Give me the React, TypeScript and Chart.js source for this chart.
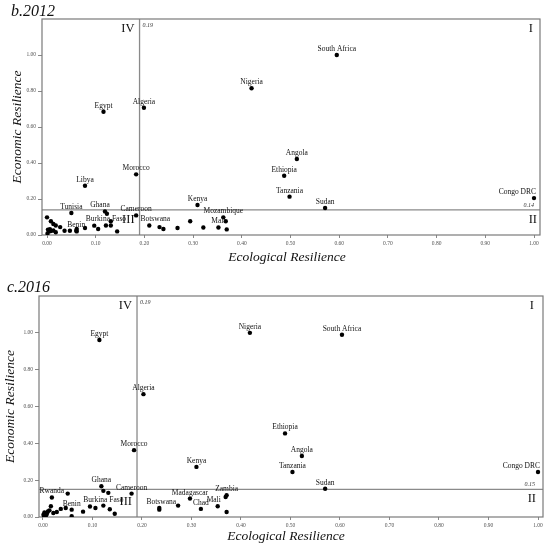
import React, { useEffect, useRef } from 'react';
import { Chart, registerables } from 'chart.js';
Chart.register(...registerables);

const FONT = '"Liberation Serif", "Times New Roman", serif';

// ---------- b.2012 ----------
const names2012 = ['South Africa', 'Nigeria', 'Egypt', 'Algeria', 'Morocco', 'Libya', 'Angola', 'Ethiopia', 'Tanzania', 'Sudan', 'Congo DRC', 'Kenya', 'Mozambique', 'Mali', 'Botswana', 'Cameroon', 'Ghana', 'Tunisia', 'Burkina Faso', 'Benin'];
const eco2012 = [0.595, 0.42, 0.116, 0.199, 0.183, 0.078, 0.513, 0.487, 0.498, 0.571, 1.0, 0.309, 0.362, 0.352, 0.21, 0.183, 0.119, 0.05, 0.121, 0.06];
const econ2012 = [1.0, 0.815, 0.685, 0.707, 0.337, 0.274, 0.422, 0.329, 0.213, 0.15, 0.205, 0.167, 0.098, 0.042, 0.053, 0.109, 0.131, 0.122, 0.053, 0.024];
const ecoOther2012 = [0.123, 0.367, 0.294, 0.321, 0.369, 0.268, 0.231, 0.239, 0.078, 0.097, 0.105, 0.131, 0.131, 0.144, 0.0, 0.008, 0.013, 0.018, 0.027, 0.036, 0.047, 0.061, 0.061, 0.002, 0.004, 0.001, 0.008, 0.013, 0.018, 0.006];
const econOther2012 = [0.118, 0.076, 0.076, 0.042, 0.031, 0.039, 0.044, 0.033, 0.039, 0.052, 0.033, 0.053, 0.076, 0.02, 0.098, 0.076, 0.061, 0.053, 0.044, 0.024, 0.024, 0.033, 0.02, 0.03, 0.02, 0.008, 0.022, 0.025, 0.015, 0.032];
const ecoThreshold2012 = 0.19;
const econThreshold2012 = 0.14;

// ---------- c.2016 ----------
const names2016 = ['Nigeria', 'South Africa', 'Egypt', 'Algeria', 'Morocco', 'Kenya', 'Ethiopia', 'Angola', 'Tanzania', 'Sudan', 'Congo DRC', 'Zambia', 'Madagascar', 'Chad', 'Mali', 'Botswana', 'Cameroon', 'Ghana', 'Burkina Faso', 'Benin', 'Rwanda'];
const eco2016 = [0.418, 0.604, 0.114, 0.203, 0.184, 0.31, 0.489, 0.523, 0.504, 0.57, 1.0, 0.371, 0.297, 0.319, 0.353, 0.235, 0.179, 0.118, 0.122, 0.058, 0.018];
const econ2016 = [1.0, 0.99, 0.961, 0.667, 0.363, 0.272, 0.454, 0.331, 0.244, 0.153, 0.244, 0.118, 0.1, 0.044, 0.058, 0.049, 0.127, 0.167, 0.062, 0.04, 0.106];
const ecoOther2016 = [0.369, 0.371, 0.273, 0.235, 0.122, 0.132, 0.05, 0.016, 0.046, 0.058, 0.036, 0.081, 0.095, 0.106, 0.135, 0.145, 0.028, 0.013, 0.021, 0.003, 0.001, 0.005, 0.008, 0.002, 0.01, 0.006];
const econOther2016 = [0.109, 0.027, 0.062, 0.04, 0.142, 0.131, 0.127, 0.058, 0.049, 0.004, 0.044, 0.029, 0.057, 0.049, 0.042, 0.018, 0.027, 0.036, 0.022, 0.025, 0.012, 0.005, 0.018, 0.0, 0.03, 0.01];
const ecoThreshold2016 = 0.19;
const econThreshold2016 = 0.15;

const X_TITLE = 'Ecological Resilience';
const Y_TITLE = 'Economic Resilience';

type Panel = {
  title: string;
  names: string[];
  eco: number[];
  econ: number[];
  ecoOther: number[];
  econOther: number[];
  vThr: number;
  hThr: number;
  height: number;
  yWidth: number;
  padTop: number;
  padRight: number;
  xHeight: number;
  xMin: number;
  xMax: number;
  titleX: number;
  titleY: number;
  yTitleX: number;
  xTitleX: number;
  xTitleY: number;
  labelDx: Record<string, number>;
  iRight: number;
  iiRight: number;
  thrRight: number;
};

const panels: Panel[] = [
  {
    title: 'b.2012', names: names2012, eco: eco2012, econ: econ2012, ecoOther: ecoOther2012, econOther: econOther2012,
    vThr: ecoThreshold2012, hThr: econThreshold2012,
    height: 272, yWidth: 42, padTop: 19, padRight: 10, xHeight: 37, xMin: -0.0103, xMax: 1.0123,
    titleX: 11, titleY: 16, yTitleX: 17, xTitleX: 287, xTitleY: 257,
    labelDx: { Botswana: 6, Ghana: -5 },
    iRight: 7, iiRight: 3, thrRight: 6,
  },
  {
    title: 'c.2016', names: names2016, eco: eco2016, econ: econ2016, ecoOther: ecoOther2016, econOther: econOther2016,
    vThr: ecoThreshold2016, hThr: econThreshold2016,
    height: 273, yWidth: 39, padTop: 24, padRight: 7, xHeight: 28, xMin: -0.008, xMax: 1.0101,
    titleX: 7, titleY: 19.5, yTitleX: 10, xTitleX: 286, xTitleY: 264.5,
    labelDx: { Mali: -4, Botswana: 2 },
    iRight: 9, iiRight: 7, thrRight: 8,
  },
];

function buildChart(canvas: HTMLCanvasElement, p: Panel) {
  const overlay = {
    id: 'overlay',
    beforeDatasetsDraw(chart: any) {
      const { ctx, chartArea: a, scales } = chart;
      const vx = scales.x.getPixelForValue(p.vThr);
      const hy = scales.y.getPixelForValue(p.hThr);
      ctx.save();
      ctx.strokeStyle = '#8a8a8a';
      ctx.lineWidth = 1.3;
      ctx.beginPath();
      ctx.moveTo(vx, a.top);
      ctx.lineTo(vx, a.bottom);
      ctx.moveTo(a.left, hy);
      ctx.lineTo(a.right, hy);
      ctx.stroke();
      ctx.strokeStyle = '#7a7a7a';
      ctx.lineWidth = 1.2;
      ctx.strokeRect(a.left, a.top, a.right - a.left, a.bottom - a.top);
      ctx.restore();
    },
    afterDraw(chart: any) {
      const { ctx, chartArea: a, scales } = chart;
      const vx = scales.x.getPixelForValue(p.vThr);
      const hy = scales.y.getPixelForValue(p.hThr);
      ctx.save();
      ctx.fillStyle = '#111';
      // point labels
      ctx.font = `7.5px ${FONT}`;
      ctx.textBaseline = 'middle';
      p.names.forEach((n, i) => {
        if (!n) return;
        const px = scales.x.getPixelForValue(p.eco[i]);
        const py = scales.y.getPixelForValue(p.econ[i]);
        if (n === 'Congo DRC') {
          ctx.textAlign = 'right';
          ctx.fillText(n, px + 2, py - 6);
        } else {
          ctx.textAlign = 'center';
          ctx.fillText(n, px + (p.labelDx[n] || 0), py - 6);
        }
      });
      // quadrant numerals
      ctx.font = `12.5px ${FONT}`;
      ctx.textAlign = 'right';
      ctx.fillText('IV', vx - 5, a.top + 10);
      ctx.fillText('I', a.right - p.iRight, a.top + 10);
      ctx.fillText('II', a.right - p.iiRight, hy + 9.5);
      ctx.fillText('III', vx - 5, a.bottom - 15);
      // threshold values
      ctx.font = `italic 6px ${FONT}`;
      ctx.fillStyle = '#333';
      ctx.textAlign = 'left';
      ctx.fillText(p.vThr.toFixed(2), vx + 3, a.top + 6);
      ctx.textAlign = 'right';
      ctx.fillText(p.hThr.toFixed(2), a.right - p.thrRight, hy - 4.5);
      // panel title
      ctx.fillStyle = '#111';
      ctx.font = `italic 16px ${FONT}`;
      ctx.textAlign = 'left';
      ctx.textBaseline = 'alphabetic';
      ctx.fillText(p.title, p.titleX, p.titleY);
      // axis titles
      ctx.font = `italic 13.5px ${FONT}`;
      ctx.textAlign = 'center';
      ctx.textBaseline = 'middle';
      ctx.fillText(X_TITLE, p.xTitleX, p.xTitleY);
      ctx.translate(p.yTitleX, (a.top + a.bottom) / 2);
      ctx.rotate(-Math.PI / 2);
      ctx.fillText(Y_TITLE, 0, 0);
      ctx.restore();
    },
  };

  const tickFont = { family: FONT, size: 5.5 };
  return new Chart(canvas, {
    type: 'scatter',
    data: {
      datasets: [
        {
          data: p.eco.map((x, i) => ({ x, y: p.econ[i] })),
          backgroundColor: '#000', borderWidth: 0, pointRadius: 2.2,
        },
        {
          data: p.ecoOther.map((x, i) => ({ x, y: p.econOther[i] })),
          backgroundColor: '#000', borderWidth: 0, pointRadius: 2.2,
        },
      ],
    },
    options: {
      responsive: false,
      animation: false,
      devicePixelRatio: 1,
      layout: { padding: { left: 0, top: p.padTop, right: p.padRight, bottom: 0 } },
      plugins: { legend: { display: false }, tooltip: { enabled: false } },
      scales: {
        x: {
          type: 'linear', min: p.xMin, max: p.xMax,
          afterFit: (s: any) => { s.height = p.xHeight; },
          border: { display: false },
          grid: { display: true, drawOnChartArea: false, drawTicks: true, tickLength: 3, tickColor: '#888' },
          ticks: {
            stepSize: 0.1, includeBounds: false, autoSkip: false, maxRotation: 0, padding: 2,
            color: '#555', font: tickFont,
            callback: (v: any) => Number(v).toFixed(2),
          },
        },
        y: {
          type: 'linear', min: 0, max: 1.2,
          afterFit: (s: any) => { s.width = p.yWidth; },
          afterBuildTicks: (s: any) => { s.ticks = s.ticks.filter((t: any) => t.value <= 1.001 && t.value >= -0.001); },
          border: { display: false },
          grid: { display: true, drawOnChartArea: false, drawTicks: true, tickLength: 4, tickColor: '#888' },
          ticks: {
            stepSize: 0.2, includeBounds: false, padding: 2,
            color: '#555', font: tickFont,
            callback: (v: any) => Number(v).toFixed(2),
          },
        },
      },
    },
    plugins: [overlay],
  } as any);
}

function Panel({ p, top }: { p: Panel; top: number }) {
  const ref = useRef<HTMLCanvasElement | null>(null);
  useEffect(() => {
    if (!ref.current) return;
    const c = buildChart(ref.current, p);
    return () => c.destroy();
  }, [p]);
  return (
    <canvas
      ref={ref}
      width={550}
      height={p.height}
      style={{ position: 'absolute', left: 0, top, width: 550, height: p.height, display: 'block' }}
    />
  );
}

export default function App() {
  useEffect(() => {
    document.body.style.margin = '0';
  }, []);
  return (
    <div style={{ position: 'relative', width: 550, height: 545, background: '#fff' }}>
      <Panel p={panels[0]} top={0} />
      <Panel p={panels[1]} top={272} />
    </div>
  );
}
